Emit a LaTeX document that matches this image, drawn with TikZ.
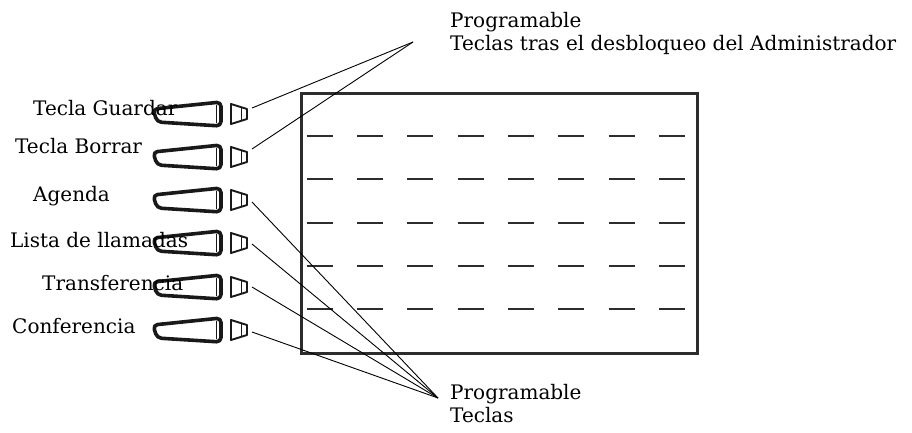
\documentclass[tikz,border=0pt]{standalone}
\usepackage{fontspec}
\setmainfont{DejaVu Serif}
\usepackage{tikz}
\usetikzlibrary{positioning}
\definecolor{keyblack}{RGB}{25,25,25}
\definecolor{screengray}{RGB}{45,45,45}
\tikzset{
  keyouter/.style={draw=keyblack,line width=3.6pt,rounded corners=4.5pt,line join=round},
  keyinner/.style={draw=keyblack,line width=0.7pt},
  softkey/.style={draw=keyblack,line width=1.9pt,line join=round},
  dashline/.style={draw=screengray,line width=1.6pt},
  leader/.style={draw=black,line width=0.9pt},
  keylabel/.style={anchor=base west,inner sep=0pt,font=\fontsize{20}{23}\selectfont},
  notelabel/.style={anchor=north west,inner sep=0pt,align=left,font=\fontsize{20}{23}\selectfont},
}

\begin{document}
\begin{tikzpicture}[x=1pt,y=-1pt]
  \useasboundingbox (0,0) rectangle (912,432);
  % keys, row by row
  \foreach \cy/\kname/\dy in {114/guardar/-6,157/borrar/-8,200/agenda/2,243/lista/1,287/transf/0,330/conf/2}{
    \draw[keyouter] (153,\cy-5) -- (221,\cy-12) -- (221,\cy+12) -- (157,\cy+8) -- cycle;
    \draw[keyinner] (216.5,\cy-9) -- (216.5,\cy+9);
    \draw[softkey] (231,\cy-10) -- (247,\cy-5) -- (247,\cy+5) -- (231,\cy+10) -- cycle;
    \draw[keyinner] (241,\cy-6) -- (241,\cy+6);
    \coordinate (\kname) at (252,\cy+\dy);
  }
  % display
  \node[draw=screengray,line width=3pt,minimum width=396pt,minimum height=260pt,inner sep=0pt] (screen) at (499,223) {};
  \foreach \row in {136,179,223,266,309}
    \foreach \col in {0,...,7}
      \draw[dashline] (306.7+\col*50.3,\row) -- ++(26,0);
  % leaders
  \coordinate (topfan) at (413,42);
  \coordinate (botfan) at (438,398);
  \draw[leader] (topfan) -- (guardar);
  \draw[leader] (topfan) -- (borrar);
  \draw[leader] (botfan) -- (agenda);
  \draw[leader] (botfan) -- (lista);
  \draw[leader] (botfan) -- (transf);
  \draw[leader] (botfan) -- (conf);
  % labels
  \node[keylabel] (lguardar) at (33,115) {Tecla Guardar};
  \node[keylabel] (lborrar) at (15,153) {Tecla Borrar};
  \node[keylabel] (lagenda) at (33,201) {Agenda};
  \node[keylabel] (llista) at (10,247) {Lista de llamadas};
  \node[keylabel] (ltransf) at (42,290) {Transferencia};
  \node[keylabel] (lconf) at (12,333) {Conferencia};
  \node[notelabel] (topnote) at (450,12) {Programable\\Teclas tras el desbloqueo del Administrador};
  \node[notelabel] (botnote) at (450,384) {Programable\\Teclas};
\end{tikzpicture}
\end{document}
